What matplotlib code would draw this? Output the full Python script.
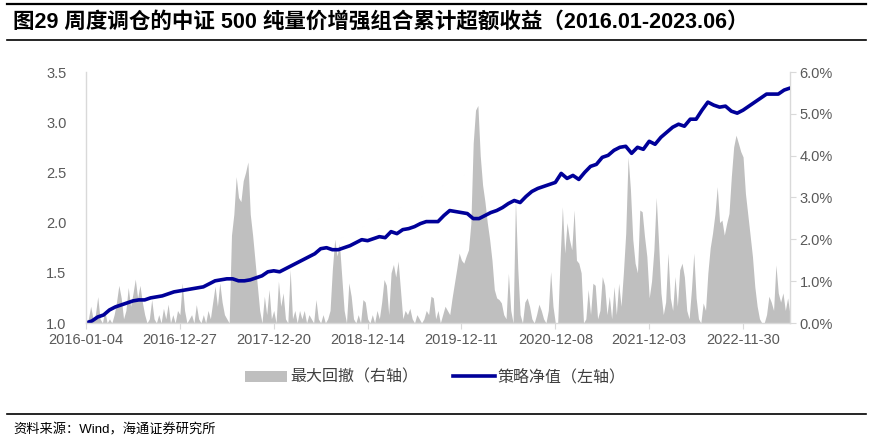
import numpy as np
import matplotlib
matplotlib.use("Agg")
import matplotlib.pyplot as plt
from matplotlib.lines import Line2D
from matplotlib.patches import Patch
from matplotlib.ticker import FuncFormatter, MultipleLocator

plt.rcParams['font.family'] = ['Liberation Sans', 'Noto Sans CJK SC', 'DejaVu Sans']

title = "图29 周度调仓的中证 500 纯量价增强组合累计超额收益（2016.01-2023.06）"
source = "资料来源：Wind，海通证券研究所"
legend_dd = "最大回撤（右轴）"
legend_nav = "策略净值（左轴）"

tick_labels = ["2016-01-04", "2016-12-27", "2017-12-20", "2018-12-14",
               "2019-12-11", "2020-12-08", "2021-12-03", "2022-11-30"]
tick_step = 240       # trading days between date labels
n_days = 1800         # trading-day span of the series

# strategy NAV, one value every 15 trading days
nav = [1.00, 1.02, 1.06, 1.08, 1.13, 1.16, 1.18, 1.20, 1.22, 1.23,
       1.23, 1.25, 1.26, 1.27, 1.29, 1.31, 1.32, 1.33, 1.34, 1.35,
       1.36, 1.39, 1.42, 1.43, 1.44, 1.44, 1.42, 1.42, 1.43, 1.45,
       1.47, 1.51, 1.52, 1.51, 1.54, 1.57, 1.60, 1.63, 1.66, 1.69,
       1.74, 1.75, 1.73, 1.73, 1.75, 1.77, 1.80, 1.83, 1.82, 1.84,
       1.86, 1.85, 1.91, 1.89, 1.93, 1.94, 1.96, 1.99, 2.01, 2.01,
       2.01, 2.07, 2.12, 2.11, 2.10, 2.09, 2.04, 2.04, 2.07, 2.10,
       2.12, 2.15, 2.19, 2.22, 2.20, 2.26, 2.31, 2.34, 2.36, 2.38,
       2.40, 2.49, 2.44, 2.47, 2.43, 2.50, 2.56, 2.58, 2.65, 2.67,
       2.72, 2.75, 2.76, 2.69, 2.75, 2.73, 2.81, 2.78, 2.85, 2.90,
       2.95, 2.98, 2.96, 3.03, 3.03, 3.12, 3.20, 3.17, 3.15, 3.16,
       3.11, 3.09, 3.12, 3.16, 3.20, 3.24, 3.28, 3.28, 3.28, 3.32,
       3.34]

# maximum drawdown (%), one value every 6 trading days
drawdown = [
    0.0, 0.1, 0.4, 0.1, 0.2, 0.63, 0.1, 0.0, 0.3, 0.0,
    0.1, 0.0, 0.2, 0.5, 0.9, 0.6, 0.1, 0.3, 0.85, 0.4,
    0.7, 1.05, 0.6, 0.9, 0.5, 0.2, 0.0, 0.1, 0.56, 0.1,
    0.0, 0.2, 0.0, 0.35, 0.1, 0.45, 0.0, 0.2, 0.0, 0.3,
    0.2, 0.96, 0.3, 0.0, 0.1, 0.2, 0.0, 0.44, 0.1, 0.0,
    0.2, 0.0, 0.3, 0.1, 0.5, 0.88, 0.4, 0.96, 0.5, 0.2,
    0.1, 0.0, 2.1, 2.6, 3.5, 3.0, 2.9, 3.4, 3.6, 3.85,
    2.6, 2.1, 1.5, 0.9, 0.3, 0.0, 0.64, 0.2, 0.8, 0.1,
    0.3, 0.0, 1.0, 0.4, 0.72, 0.1, 0.0, 1.28, 0.1, 0.3,
    0.0, 0.3, 0.1, 0.3, 0.0, 0.2, 0.1, 0.0, 0.56, 0.1,
    0.0, 0.2, 0.0, 0.1, 0.3, 1.3, 2.0, 1.6, 1.9, 1.1,
    0.3, 0.0, 0.96, 0.64, 0.1, 0.0, 0.2, 0.0, 0.56, 0.5,
    0.1, 0.0, 0.2, 0.0, 0.3, 0.1, 0.5, 1.04, 0.9, 0.2,
    1.2, 1.4, 1.1, 1.48, 0.8, 0.1, 0.3, 0.2, 0.35, 0.1,
    0.0, 0.2, 0.1, 0.0, 0.1, 0.3, 0.2, 0.64, 0.6, 0.1,
    0.3, 0.0, 0.2, 0.4, 0.3, 0.2, 0.6, 0.95, 1.3, 1.67,
    1.5, 1.43, 1.6, 1.75, 2.38, 4.3, 5.09, 5.2, 4.0, 3.3,
    2.9, 2.4, 2.0, 1.5, 0.8, 0.6, 0.56, 0.48, 0.2, 0.1,
    1.19, 0.3, 0.0, 2.94, 1.3, 0.2, 0.0, 0.5, 0.6, 0.4,
    0.1, 0.0, 0.2, 0.45, 0.3, 0.1, 0.0, 0.3, 1.23, 0.4,
    0.0, 0.0, 1.5, 2.78, 1.67, 2.4, 2.0, 1.75, 2.7, 1.5,
    1.43, 1.2, 0.0, 0.1, 0.8, 0.2, 0.95, 0.9, 0.1, 0.3,
    1.11, 0.9, 0.2, 0.64, 0.1, 0.87, 0.2, 0.95, 0.4, 1.2,
    2.15, 3.97, 3.2, 2.0, 1.43, 1.2, 2.7, 2.66, 2.07, 1.59,
    0.6, 1.0, 1.75, 3.0, 1.91, 0.72, 0.2, 0.5, 1.67, 0.6,
    0.3, 1.11, 0.4, 1.27, 1.43, 1.1, 0.3, 0.1, 0.8, 1.67,
    0.6, 0.1, 0.0, 0.48, 0.3, 1.2, 1.8, 2.15, 2.6, 3.26,
    2.4, 2.46, 2.1, 2.38, 2.62, 3.5, 4.21, 4.49, 4.3, 4.1,
    3.97, 3.1, 2.6, 2.1, 1.59, 0.87, 0.4, 0.1, 0.0, 0.0,
    0.2, 0.64, 0.5, 0.3, 1.39, 0.72, 0.5, 0.72, 0.3, 0.6,
    0.2]

x_nav = np.linspace(0, n_days, len(nav))
x_dd = np.linspace(0, n_days, len(drawdown))

fig = plt.figure(figsize=(8.71, 4.44), dpi=100)
W, H = 871, 444
ax = fig.add_axes([86 / W, 1 - 323 / H, (790 - 86) / W, (323 - 72) / H])
ax2 = ax.twinx()

grey_txt = "#595959"
spine_c = "#D9D9D9"

ax2.fill_between(x_dd, 0, drawdown, color="#BFBFBF", lw=0)
ax.plot(x_nav, nav, color="#000099", lw=2.6, solid_capstyle="round")

ax.set_zorder(ax2.get_zorder() + 1)
ax.patch.set_visible(False)

ax.set_xlim(0, n_days)
ax.set_ylim(1.0, 3.5)
ax.yaxis.set_major_locator(MultipleLocator(0.5))
ax.yaxis.set_major_formatter(FuncFormatter(lambda v, p: f"{v:.1f}"))
ax2.set_ylim(0, 6)
ax2.yaxis.set_major_locator(MultipleLocator(1))
ax2.yaxis.set_major_formatter(FuncFormatter(lambda v, p: f"{v:.1f}%"))

ax.set_xticks(np.arange(len(tick_labels)) * tick_step)
ax.set_xticklabels(tick_labels)

for a in (ax, ax2):
    for s in a.spines.values():
        s.set_color(spine_c)
        s.set_linewidth(1.0)
    a.spines["top"].set_visible(False)
ax.spines["right"].set_visible(False)
ax2.spines["left"].set_visible(False)
ax2.spines["bottom"].set_visible(False)

ax.tick_params(axis="y", length=0, labelsize=10.5, labelcolor=grey_txt, pad=14)
ax.tick_params(axis="x", length=4, color=spine_c, labelsize=10.5, labelcolor=grey_txt, pad=3)
ax2.tick_params(axis="y", length=4, color=spine_c, labelsize=10.5, labelcolor=grey_txt, pad=3)

# legend
handles = [Patch(facecolor="#BFBFBF", edgecolor="none"),
           Line2D([0], [0], color="#000099", lw=2.6)]
fig.legend(handles, [legend_dd, legend_nav], loc="center",
           bbox_to_anchor=(0.5, 1 - 377 / H), ncol=2, frameon=False,
           fontsize=11.5, handlelength=2.6, handletextpad=0.2,
           columnspacing=2.2, labelcolor="#404040")

# title, rules and source
fig.add_artist(Line2D([7 / W, 866 / W], [1 - 4 / H, 1 - 4 / H], color="black", lw=1.6))
fig.add_artist(Line2D([7 / W, 866 / W], [1 - 40 / H, 1 - 40 / H], color="black", lw=1.2))
fig.add_artist(Line2D([7 / W, 866 / W], [1 - 414 / H, 1 - 414 / H], color="black", lw=1.2))
fig.text(13 / W, 1 - 22 / H, title, fontsize=15.5, fontweight="bold",
         va="center", ha="left", color="black")
fig.text(13 / W, 1 - 430 / H, source, fontsize=9.5, va="center", ha="left",
         color="black")

fig.savefig("out.png", dpi=100)
